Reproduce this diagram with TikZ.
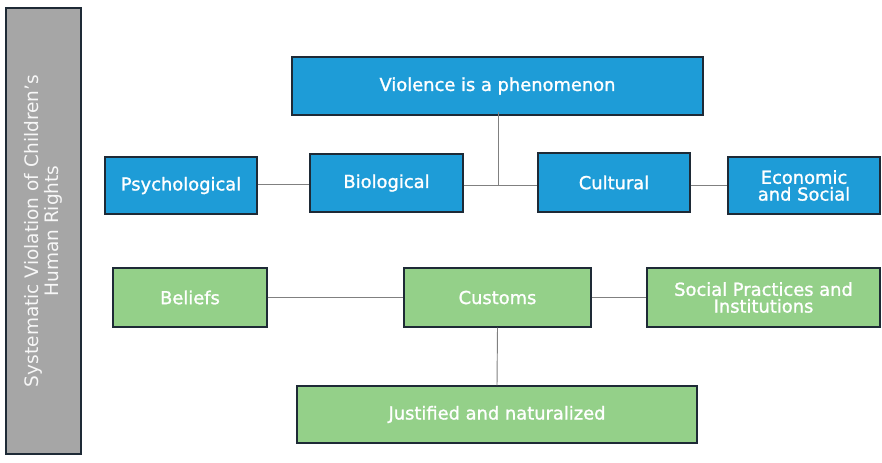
\documentclass[tikz,border=0pt]{standalone}
\usepackage{fontspec}
\setmainfont{DejaVu Sans}
\newfontfamily\boxfont{DejaVu Sans}[FakeBold=1.3]
\usepackage{tikz}
\definecolor{boxblue}{HTML}{1E9CD7}
\definecolor{boxgreen}{HTML}{94D089}
\definecolor{boxgray}{HTML}{A6A6A6}
\definecolor{edgedark}{HTML}{1E2A36}
\definecolor{linkgray}{HTML}{808080}

\begin{document}
\begin{tikzpicture}[x=0.75pt,y=0.75pt,yscale=-1,xscale=1,
  box/.style={draw=edgedark, line width=0.9pt, text=white, align=center,
    font=\boxfont\fontsize{13.4}{12.6}\selectfont, inner sep=0pt},
  bluebox/.style={box, fill=boxblue},
  greenbox/.style={box, fill=boxgreen},
  link/.style={draw=linkgray, line width=0.7pt}]
 \useasboundingbox (0,0) rectangle (882,462);

 % side label
 \node[box, fill=boxgray, minimum width=334.5pt, minimum height=56.25pt, rotate=90,
   font=\fontsize{13.9}{12.6}\selectfont, text=white!94!gray] (side) at (43.5,231)
   {Systematic Violation of Children's\\Human Rights};

 % top part
 \node[bluebox, minimum width=308.25pt, minimum height=43.5pt] (viol) at (497.5,86) {Violence is a phenomenon};
 \node[bluebox, minimum width=114pt, minimum height=42.75pt] (psych) at (181,185.5) {Psychological};
 \node[bluebox, minimum width=114.75pt, minimum height=43.5pt] (bio) at (386.5,183) {Biological};
 \node[bluebox, minimum width=114pt, minimum height=44.25pt] (cult) at (614,182.5) {Cultural};
 \node[bluebox, minimum width=114pt, minimum height=42.75pt] (econ) at (804,185.5) {Economic\\and Social};
 \coordinate (jn) at (498,185);

 \draw[link] (psych.east |- 0,184) -- (bio.west |- 0,184);
 \draw[link] (bio.east |- jn) -- (cult.west |- jn);
 \draw[link] (cult.east |- jn) -- (econ.west |- jn);
 \draw[link] ([yshift=-3pt]viol.south -| jn) -- (jn);

 % bottom part
 \node[greenbox, minimum width=115.5pt, minimum height=44.25pt] (belief) at (190,297.5) {Beliefs};
 \node[greenbox, minimum width=140.25pt, minimum height=44.25pt] (cust) at (497.5,297.5) {Customs};
 \node[greenbox, minimum width=174.75pt, minimum height=44.25pt] (socpr) at (763.5,297.5) {Social Practices and\\Institutions};
 \node[greenbox, minimum width=300pt, minimum height=42.75pt] (just) at (497,414.5) {Justified and naturalized};

 \draw[link] (belief.east) -- (cust.west);
 \draw[link] (cust.east) -- (socpr.west);
 \draw[link] (cust.south) -- (just.north);
\end{tikzpicture}
\end{document}
